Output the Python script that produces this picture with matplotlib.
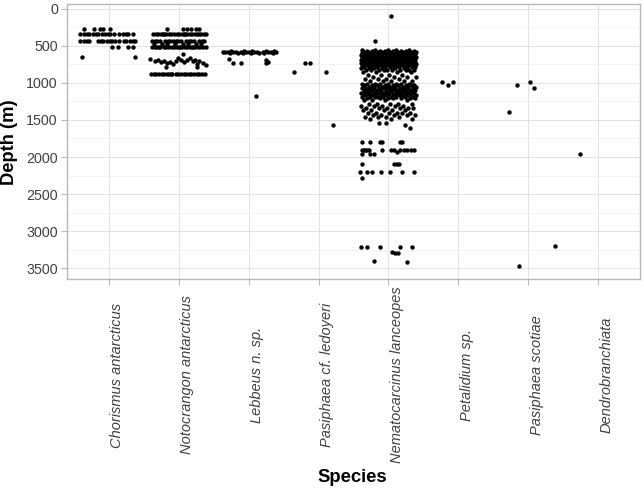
import matplotlib
matplotlib.use('Agg')
import matplotlib.pyplot as plt
from matplotlib.ticker import MultipleLocator, FixedLocator

plt.rcParams['font.family'] = ['Liberation Sans', 'DejaVu Sans']

# ---------------- data ----------------
species = ["Chorismus antarcticus", "Notocrangon antarcticus", "Lebbeus n. sp.",
           "Pasiphaea cf. ledoyeri", "Nematocarcinus lanceopes", "Petalidium sp.",
           "Pasiphaea scotiae", "Dendrobranchiata"]
yticks = [0, 500, 1000, 1500, 2000, 2500, 3000, 3500]

# Chorismus antarcticus (individual points, depth + horizontal jitter)
cho_depth = ([270] * 5 + [345] * 17 + [432] * 17 + [512] * 4 + [647] * 2)
cho_jit = ([-0.36, -0.21, -0.13, -0.08, 0.01]
           + [-0.41, -0.36, -0.32, -0.28, -0.23, -0.19, -0.15, -0.10, -0.06, -0.02, 0.02,
              0.07, 0.14, 0.20, 0.24, 0.28, 0.35]
           + [-0.41, -0.36, -0.32, -0.28, -0.16, -0.12, -0.08, -0.03, 0.01, 0.05, 0.09,
              0.14, 0.21, 0.25, 0.30, 0.34, 0.38]
           + [0.05, 0.13, 0.28, 0.35]
           + [-0.39, 0.38])

# Notocrangon antarcticus: dense rows (depth level, number of points) + scattered points
noto_levels = [345, 430, 470, 515, 885]
noto_counts = [24, 18, 8, 24, 22]
noto_depth = ([270] * 6
              + [680, 705, 690, 720, 700, 735, 715, 750, 700, 670, 695, 725, 690, 660,
                 710, 690, 740, 700, 735, 755]
              + [780, 790, 612])
noto_jit = ([-0.17, 0.06, 0.12, 0.18, 0.24, 0.29]
            + [-0.41, -0.34, -0.30, -0.25, -0.21, -0.17, -0.12, -0.09, -0.04, -0.01, 0.03,
               0.08, 0.12, 0.16, 0.21, 0.23, 0.26, 0.29, 0.35, 0.39]
            + [-0.18, 0.26, 0.06])

# Lebbeus n. sp.
leb_levels = [565, 585, 600]
leb_counts = [5, 14, 7]
leb_depth = [682, 728, 737, 692, 737, 715, 1173]
leb_jit = [-0.28, -0.22, -0.11, 0.25, 0.25, 0.27, 0.11]

# Pasiphaea cf. ledoyeri
pcl_depth = [853, 728, 728, 853, 1568]
pcl_jit = [-0.35, -0.19, -0.12, 0.10, 0.20]

# Nematocarcinus lanceopes: dense block as depth levels with counts + sparse points
nem_levels = [555, 570, 585, 600, 615, 630, 645, 660, 675, 690, 705, 720, 735, 750,
              765, 780, 795, 830, 860, 890, 920, 950, 980, 1010, 1030, 1050, 1070,
              1090, 1110, 1130, 1150, 1170, 1190, 1210, 1235, 1280, 1310, 1340, 1370,
              1400, 1430, 1460, 1490]
nem_counts = [5, 9, 12, 14, 14, 13, 12, 11, 11, 11, 12, 15, 17, 16, 14, 10, 6, 10,
              4, 4, 4, 4, 5, 8, 9, 9, 9, 10, 9, 10, 10, 9, 9, 7, 4, 5, 5, 6, 5, 6,
              5, 4, 3]
nem_depth = ([100, 440, 1545, 1545, 1568, 1604]
             + [1792] * 6
             + [1905] * 13
             + [1960, 1960, 1960, 1936]
             + [2096] * 4
             + [2206] * 7
             + [2278]
             + [3217] * 5
             + [3284, 3290, 3297, 3401, 3419])
nem_jit = ([0.03, -0.19, -0.14, -0.03, 0.24, 0.31]
           + [-0.38, -0.26, -0.12, -0.09, 0.17, 0.20]
           + [-0.38, -0.35, -0.33, -0.30, -0.28, -0.09, 0.03, 0.08, 0.17, 0.22, 0.27, 0.32, 0.36]
           + [-0.38, -0.26, -0.21, 0.12]
           + [-0.38, 0.08, 0.12, 0.15]
           + [-0.40, -0.30, -0.23, -0.11, 0.02, 0.20, 0.37]
           + [-0.38]
           + [-0.39, -0.30, -0.12, 0.17, 0.34]
           + [0.05, 0.09, 0.13, -0.21, 0.26])

# Petalidium sp.
pet_depth = [993, 1024, 993]
pet_jit = [-0.24, -0.15, -0.08]

# Pasiphaea scotiae
psc_depth = [1024, 984, 1069, 1397, 3464, 3195]
psc_jit = [-0.16, 0.02, 0.08, -0.27, -0.13, 0.38]

# Dendrobranchiata
den_depth = [1959]
den_jit = [-0.26]


# ---------------- build points ----------------
_counter = [0]


def auto_jitter(n):
    """Deterministic (golden-ratio) horizontal spread for dense rows, width 0.4."""
    out = []
    for _ in range(n):
        _counter[0] += 1
        out.append(((_counter[0] * 0.6180339887) % 1.0 - 0.5) * 0.8)
    return out


xs, ys = [], []


def add(idx, depths, jits):
    for d, j in zip(depths, jits):
        xs.append(idx + j)
        ys.append(d)


def add_levels(idx, levels, counts):
    for lv, c in zip(levels, counts):
        add(idx, [lv] * c, auto_jitter(c))


add(1, cho_depth, cho_jit)
add_levels(2, noto_levels, noto_counts)
add(2, noto_depth, noto_jit)
add_levels(3, leb_levels, leb_counts)
add(3, leb_depth, leb_jit)
add(4, pcl_depth, pcl_jit)
add_levels(5, nem_levels, nem_counts)
add(5, nem_depth, nem_jit)
add(6, pet_depth, pet_jit)
add(7, psc_depth, psc_jit)
add(8, den_depth, den_jit)

# ---------------- figure ----------------
W, H = 644, 491
fig = plt.figure(figsize=(W / 100, H / 100), dpi=100)
L, R, T, B = 67, 640, 4, 279
ax = fig.add_axes([L / W, 1 - B / H, (R - L) / W, (B - T) / H])

ax.scatter(xs, ys, s=10, c='black', linewidths=0, zorder=3)

ax.set_xlim(0.4, 8.6)
ax.set_ylim(3644, -63)

ax.yaxis.set_major_locator(FixedLocator(yticks))
ax.yaxis.set_minor_locator(MultipleLocator(250))
ax.xaxis.set_major_locator(FixedLocator(range(1, len(species) + 1)))
ax.set_xticklabels([])

ax.set_axisbelow(True)
ax.grid(which='major', axis='both', color='#e2e2e2', linewidth=0.7)
ax.grid(which='minor', axis='y', color='#efefef', linewidth=0.5)

for s in ax.spines.values():
    s.set_color('#b8b8b8')
    s.set_linewidth(1.0)

ax.tick_params(axis='both', which='major', direction='out', color='#b8b8b8',
               length=4.5, width=0.8, labelsize=10.3, labelcolor='#404040', pad=2)
ax.tick_params(axis='y', which='minor', length=0)

# rotated, italic category labels centred vertically around y≈375 px
for i, name in enumerate(species, start=1):
    xf = ax.transData.transform((i, 0))[0] / W + 1.5 / W
    fig.text(xf, 1 - 375 / H, name, rotation=90, ha='left', va='center',
             fontsize=10.5, style='italic', color='#404040')

fig.text(352 / W, 1 - 478 / H, 'Species', ha='center', va='center',
         fontsize=13.3, fontweight='bold', color='black')
fig.text(10 / W, 1 - 142 / H, 'Depth (m)', ha='center', va='center', rotation=90,
         fontsize=13.2, fontweight='bold', color='black')

fig.savefig('out.png', dpi=100)
